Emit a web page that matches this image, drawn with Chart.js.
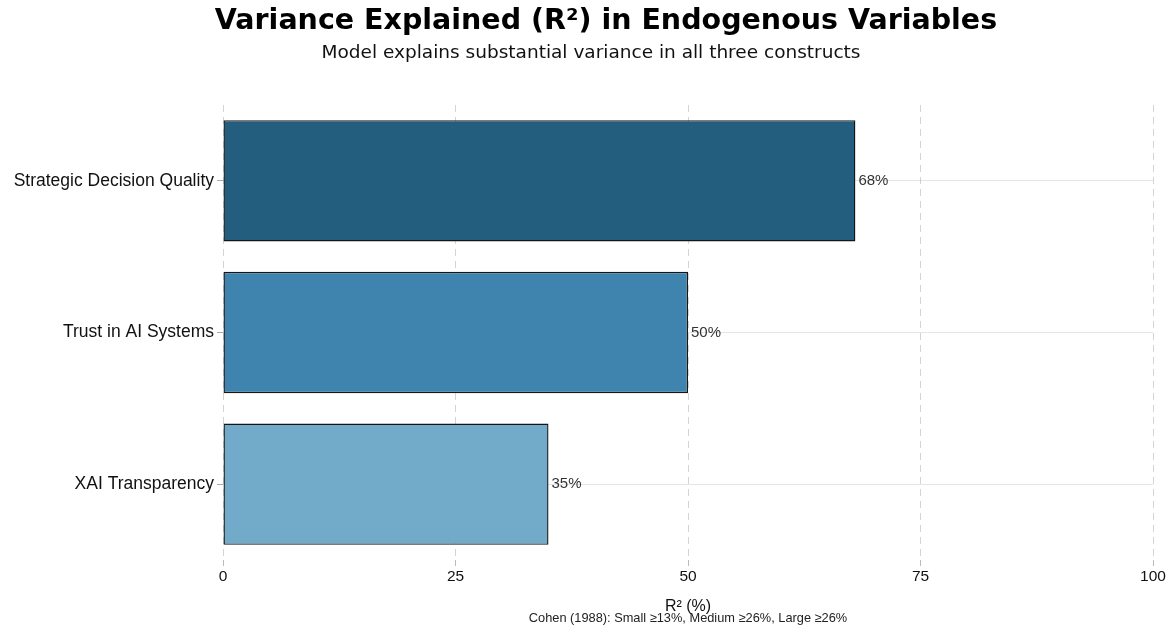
<!DOCTYPE html>
<html>
<head>
<meta charset="utf-8">
<script src="https://cdn.jsdelivr.net/npm/chart.js@4/dist/chart.umd.min.js"></script>
<style>
  html, body { margin: 0; padding: 0; background: #fff; }
  #wrap { width: 1173px; height: 627px; }
</style>
</head>
<body>
<div id="wrap"><canvas id="chart"></canvas></div>
<script>
const constructs = ['Strategic Decision Quality', 'Trust in AI Systems', 'XAI Transparency'];
const rSquared = [68, 50, 35];
const barColors = ['#245e7e', '#3e84af', '#72abca'];
const xTicks = [0, 25, 50, 75, 100];
const heading = 'Variance Explained (R\u00b2) in Endogenous Variables';
const subheading = 'Model explains substantial variance in all three constructs';
const footnote = 'Cohen (1988): Small \u226513%, Medium \u226526%, Large \u226526%';

// headings, percent labels at the bar ends and the note under the axis title
const annotate = {
  id: 'annotate',
  afterDatasetsDraw(chart) {
    const ctx = chart.ctx;
    const meta = chart.getDatasetMeta(0);
    ctx.save();
    ctx.font = '15px "Liberation Sans", Arial, sans-serif';
    ctx.fillStyle = '#333';
    ctx.textAlign = 'left';
    ctx.textBaseline = 'middle';
    meta.data.forEach((bar, i) => {
      ctx.fillText(rSquared[i] + '%', bar.x + 3, bar.y);
    });
    ctx.restore();
  },
  afterDraw(chart) {
    const ctx = chart.ctx;
    const area = chart.chartArea;
    ctx.save();
    ctx.textAlign = 'center';
    ctx.textBaseline = 'middle';
    ctx.fillStyle = '#000';
    ctx.font = 'bold 28.5px "DejaVu Sans", sans-serif';
    ctx.fillText(heading, 606, 22);
    ctx.fillStyle = '#111';
    ctx.font = '18.5px "DejaVu Sans", sans-serif';
    ctx.fillText(subheading, 591, 53);
    ctx.fillStyle = '#222';
    ctx.font = '12.8px "Liberation Sans", Arial, sans-serif';
    ctx.fillText(footnote, (area.left + area.right) / 2, 618);
    ctx.restore();
  }
};

new Chart(document.getElementById('chart'), {
  type: 'bar',
  data: {
    labels: constructs,
    datasets: [{
      data: rSquared,
      backgroundColor: barColors,
      borderColor: '#161616',
      borderWidth: 1.4,
      borderSkipped: false,
      barPercentage: 0.8,
      categoryPercentage: 1.0
    }]
  },
  options: {
    indexAxis: 'y',
    responsive: true,
    maintainAspectRatio: false,
    animation: false,
    layout: { padding: { left: 0, right: 20, top: 105, bottom: 0 } },
    plugins: {
      legend: { display: false },
      tooltip: { enabled: false }
    },
    scales: {
      x: {
        min: 0,
        max: 100,
        z: 1,
        afterFit(scale) { scale.height = 67; },
        afterBuildTicks(scale) { scale.ticks = xTicks.map(v => ({ value: v })); },
        grid: {
          color: 'rgba(205,205,205,0.85)',
          lineWidth: 1,
          tickLength: 6,
          tickColor: '#bbb'
        },
        border: { display: false, dash: [7, 5] },
        ticks: {
          color: '#111',
          padding: 1,
          font: { family: '"Liberation Sans", Arial, sans-serif', size: 15.5 }
        },
        title: {
          display: true,
          text: 'R\u00b2 (%)',
          color: '#111',
          font: { family: '"Liberation Sans", Arial, sans-serif', size: 16 },
          padding: { top: 0, bottom: 11 }
        }
      },
      y: {
        afterFit(scale) { scale.width = 223; },
        border: { display: false },
        grid: {
          offset: false,
          color: 'rgba(0,0,0,0.1)',
          tickLength: 6,
          tickColor: '#aaa'
        },
        ticks: {
          color: '#111',
          padding: 3,
          font: { family: '"Liberation Sans", Arial, sans-serif', size: 17.5 }
        }
      }
    }
  },
  plugins: [annotate]
});
</script>
</body>
</html>
